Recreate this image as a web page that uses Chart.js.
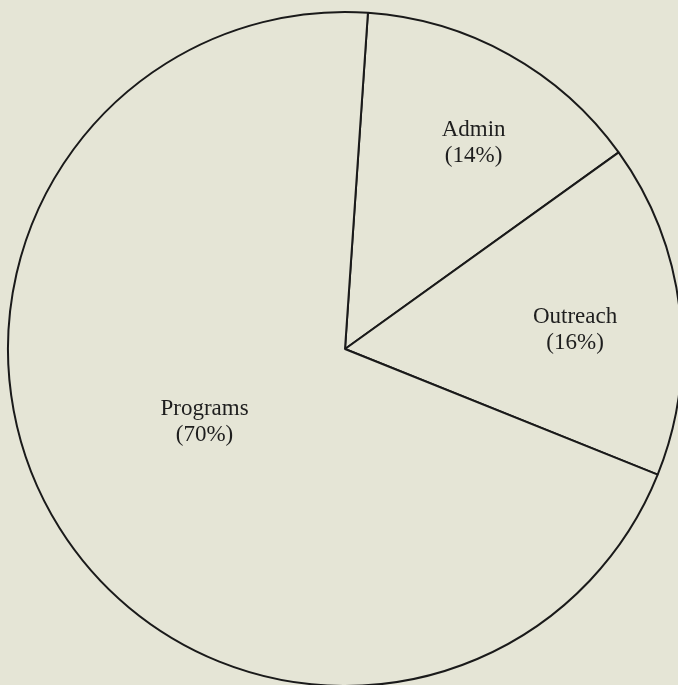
<!DOCTYPE html>
<html>
<head>
<meta charset="utf-8">
<title>Budget split</title>
<script src="https://cdn.jsdelivr.net/npm/chart.js@4/dist/chart.umd.min.js"></script>
<style>
  html, body {
    margin: 0;
    padding: 0;
    width: 678px;
    height: 685px;
    overflow: hidden;
    background: #e5e5d6;
  }
  .chartBox {
    position: absolute;
    left: 0px;
    top: 4px;
    width: 690px;
    height: 690px;
  }
</style>
</head>
<body>
<div class="chartBox">
  <canvas id="myChart"></canvas>
</div>
<script>
// slices, clockwise from the top
const categories = ["Admin", "Outreach", "Programs"];
const shares = [14, 16, 70];

// where each label sits: fraction of the radius and a small turn (degrees) off the slice middle
const labelSpots = [[0.72, 2.9], [0.685, 2.2], [0.47, 4.6]];

const bgColor = '#e5e5d6';

// draws "Name" and "(xx%)" inside each slice
const sliceLabels = {
    id: 'sliceLabels',
    afterDatasetsDraw(chart) {
        const ctx = chart.ctx;
        const meta = chart.getDatasetMeta(0);
        const total = shares.reduce((a, b) => a + b, 0);
        ctx.save();
        ctx.font = '23px "Liberation Serif", "Times New Roman", serif';
        ctx.fillStyle = '#1e1e1e';
        ctx.textAlign = 'center';
        ctx.textBaseline = 'middle';
        meta.data.forEach((arc, i) => {
            const p = arc.getProps(['x', 'y', 'startAngle', 'endAngle', 'outerRadius'], true);
            const spot = labelSpots[i];
            const mid = (p.startAngle + p.endAngle) / 2 + spot[1] * Math.PI / 180;
            const r = p.outerRadius * spot[0];
            const x = p.x + Math.cos(mid) * r;
            const y = p.y + Math.sin(mid) * r;
            const pct = Math.round(shares[i] / total * 100);
            ctx.fillText(categories[i], x, y - 13);
            ctx.fillText('(' + pct + '%)', x, y + 13);
        });
        ctx.restore();
    }
};

function drawPie() {
    const ctx = document.getElementById('myChart').getContext('2d');
    const chart = new Chart(ctx, {
        type: 'pie',
        data: {
            labels: categories,
            datasets: [{
                data: shares,
                backgroundColor: bgColor,
                borderColor: '#1a1a1a',
                borderWidth: 2,
                hoverOffset: 0
            }]
        },
        options: {
            responsive: true,
            maintainAspectRatio: false,
            animation: false,
            rotation: 3.9,
            radius: 337,
            layout: { padding: 0 },
            events: [],
            plugins: {
                legend: { display: false },
                tooltip: { enabled: false }
            }
        },
        plugins: [sliceLabels]
    });
}

drawPie();
</script>
</body>
</html>
